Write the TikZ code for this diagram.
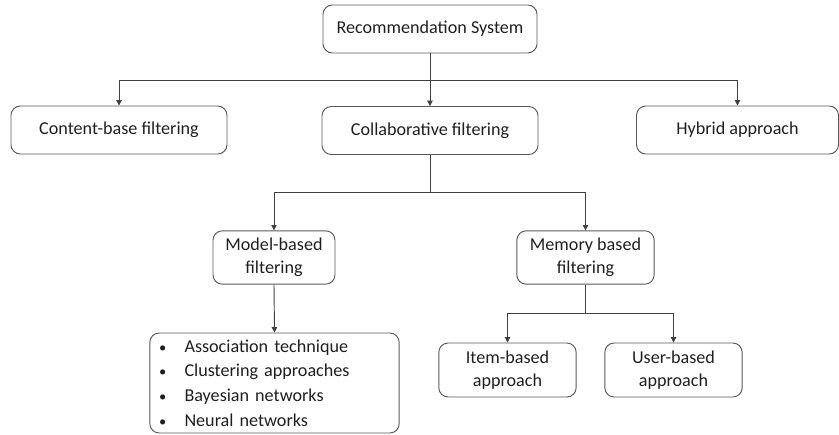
\documentclass[tikz,border=0pt]{standalone}
\usepackage{fontspec}
\setmainfont{Carlito}
\usetikzlibrary{arrows.meta}
\newcommand{\listdot}{\makebox[20pt][l]{\hspace{1pt}\scalebox{0.8}{\textbullet}}}

\begin{document}
\begin{tikzpicture}[x=0.75pt,y=-0.75pt,font=\fontsize{13.6}{17.5}\selectfont,every node/.style={draw=black!65,rounded corners=7pt,align=center,text=black!88,line width=0.7pt,minimum height=36pt},link/.style={black!75,line width=0.7pt},arrow/.style={link,-{Triangle[length=4pt,width=4pt]}}]
\useasboundingbox (0,0) rectangle (839,435);

\node[minimum width=160.5pt] (recsys) at (430,29) {Recommendation System};
\node[minimum width=162pt] (content) at (119,130) {Content-base filtering};
\node[minimum width=162pt] (collab) at (430,130.5) {Collaborative filtering};
\node[minimum width=151.5pt] (hybrid) at (737.5,130) {Hybrid approach};

\node[minimum width=91.5pt,minimum height=40pt] (model) at (274,257.5) {Model-based\\filtering};
\node[minimum width=103pt,minimum height=40pt] (memory) at (585.5,257.5) {Memory based\\filtering};

\node[minimum width=187pt,minimum height=75pt,text width=175pt,align=left,font=\fontsize{13.6}{18.5}\selectfont] (methods) at (274.5,383) {\listdot Association technique\\\listdot Clustering approaches\\\listdot Bayesian networks\\\listdot Neural networks};
\node[minimum width=103pt,minimum height=40.5pt] (item) at (507.5,370) {Item-based\\approach};
\node[minimum width=103pt,minimum height=40.5pt] (user) at (673.5,370) {User-based\\approach};

% forks
\coordinate (fork1) at (430,80);
\coordinate (fork2) at (430,192);
\coordinate (fork3) at (585.5,313);

\draw[link] (recsys.south) -- (fork1);
\draw[arrow] (fork1) -| (content.north);
\draw[arrow] (fork1) -- (collab.north);
\draw[arrow] (fork1) -| (hybrid.north);

\draw[link] (collab.south) -- (fork2);
\draw[arrow] (fork2) -| (model.north);
\draw[arrow] (fork2) -| (memory.north);

\draw[arrow] (model.south) -- (methods.north);

\draw[link] (memory.south) -- (fork3);
\draw[arrow] (fork3) -| (item.north);
\draw[arrow] (fork3) -| (user.north);
\end{tikzpicture}
\end{document}
